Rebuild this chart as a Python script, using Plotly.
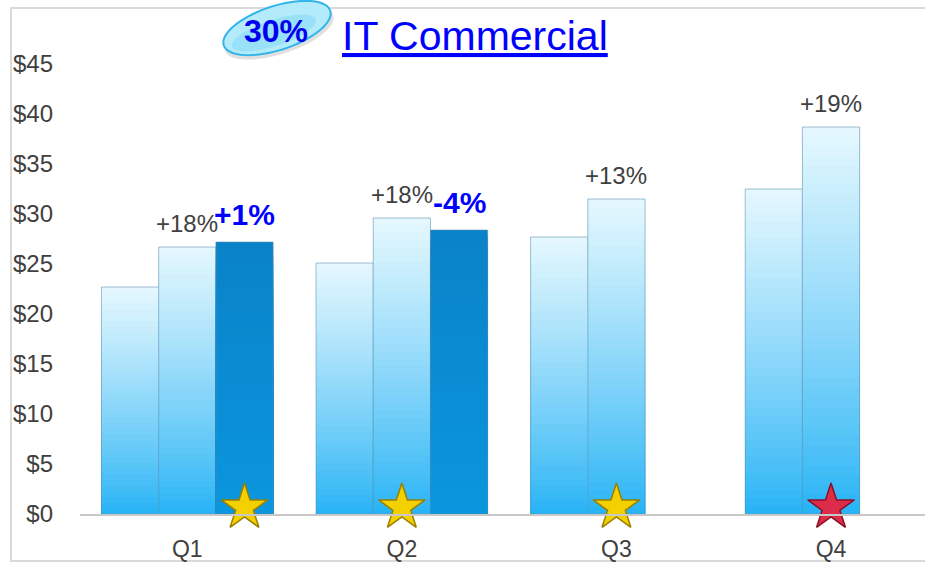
import math
import plotly.graph_objects as go

# ---------------- data ----------------
quarters = ["Q1", "Q2", "Q3", "Q4"]
prior_year = [22.7, 25.1, 27.7, 32.5]
current_year = [26.7, 29.6, 31.5, 38.7]
plan = [27.2, 28.4, None, None]
yoy_labels = ["+18%", "+18%", "+13%", "+19%"]
plan_labels = ["+1%", "-4%", None, None]
star_kind = ["gold", "gold", "gold", "red"]
star_series = [2, None, None, None]   # series the star sits on (None = group centre)
y_ticks = [0, 5, 10, 15, 20, 25, 30, 35, 40, 45]
y_tick_text = ["$" + str(v) for v in y_ticks]
title_text = "IT Commercial"
badge_text = "30%"

# ---------------- layout constants ----------------
W, H = 925, 563
ML, MR, MT, MB = 80, 0, 64, 49
PW, PH = W - ML - MR, H - MT - MB
BARGAP = 0.2
NSER = 3
BAR_W = (1 - BARGAP) / NSER
FONT = "Liberation Sans, Arial, sans-serif"
N_SLICES = 40

xpos = list(range(len(quarters)))


def px2paper(x, y):
    return (x - ML) / PW, (H - MB - y) / PH


def lerp(c0, c1, t):
    return "rgb(%d,%d,%d)" % tuple(round(a + (b - a) * t) for a, b in zip(c0, c1))


fig = go.Figure()

series = [
    (prior_year, (36, 178, 245), (230, 248, 254), 0.85),
    (current_year, (36, 178, 245), (230, 248, 254), 0.85),
    (plan, (10, 150, 222), (10, 130, 200), 1.0),
]

for si, (vals, c_bot, c_top, gamma) in enumerate(series):
    # draw from tallest (top colour) to shortest (bottom colour) -> smooth vertical gradient
    for j in range(N_SLICES):
        frac = (N_SLICES - j) / N_SLICES
        t = ((N_SLICES - j - 0.5) / N_SLICES) ** gamma
        fig.add_trace(go.Bar(
            x=xpos,
            y=[None if v is None else v * frac for v in vals],
            offsetgroup=str(si),
            marker=dict(color=lerp(c_bot, c_top, t), line=dict(width=0)),
            hoverinfo="skip", showlegend=False,
        ))
    # outline
    fig.add_trace(go.Bar(
        x=xpos, y=vals, offsetgroup=str(si),
        marker=dict(color="rgba(0,0,0,0)",
                    line=dict(color="rgba(90,140,175,0.55)", width=1)),
        hoverinfo="skip", showlegend=False,
    ))

# stars
STAR_Y = 0.65
star_x = [x + ((s - 1) * BAR_W if s is not None else 0) for x, s in zip(xpos, star_series)]
fill = {"gold": "#f3d000", "red": "#dc2c4a"}
edge = {"gold": "#9c7f00", "red": "#8a1026"}
fig.add_trace(go.Scatter(
    x=star_x, y=[STAR_Y] * len(star_x), mode="markers",
    marker=dict(symbol="star", size=35,
                color=[fill[k] for k in star_kind],
                line=dict(color=[edge[k] for k in star_kind], width=1.5)),
    cliponaxis=False, hoverinfo="skip", showlegend=False,
))

annotations = []
# growth labels
for x, v, lab in zip(xpos, current_year, yoy_labels):
    if lab:
        annotations.append(dict(x=x, y=v, text=lab, showarrow=False, xref="x", yref="y",
                                yanchor="middle", yshift=24,
                                font=dict(family=FONT, size=24, color="#404040")))
for x, v, lab in zip(xpos, plan, plan_labels):
    if lab:
        annotations.append(dict(x=x + BAR_W, y=v, text="<b>" + lab + "</b>", showarrow=False,
                                xref="x", yref="y", yanchor="middle", yshift=28,
                                font=dict(family=FONT, size=30, color="#0000ff")))

# title
tx, ty = px2paper(475, 36)
annotations.append(dict(x=tx, y=ty, xref="paper", yref="paper", text="<u>" + title_text + "</u>",
                        showarrow=False, xanchor="center", yanchor="middle",
                        font=dict(family=FONT, size=41, color="#0000ff")))
bx, by = px2paper(276, 31)
annotations.append(dict(x=bx, y=by, xref="paper", yref="paper", text="<b>" + badge_text + "</b>",
                        showarrow=False, xanchor="center", yanchor="middle",
                        font=dict(family=FONT, size=32, color="#0000ee")))


def ellipse_path(cx, cy, a, b, ang_deg, n=72):
    ph = math.radians(ang_deg)
    pts = []
    for k in range(n):
        t = 2 * math.pi * k / n
        ex, ey = a * math.cos(t), b * math.sin(t)
        x = cx + ex * math.cos(ph) + ey * math.sin(ph)
        y = cy - ex * math.sin(ph) + ey * math.cos(ph)
        pts.append(px2paper(x, y))
    return "M " + " L ".join("%.5f,%.5f" % p for p in pts) + " Z"


shapes = [
    # outer frame
    dict(type="rect", xref="paper", yref="paper",
         x0=px2paper(11, 0)[0], x1=px2paper(940, 0)[0],
         y0=px2paper(0, 561)[1], y1=px2paper(0, 8)[1],
         line=dict(color="#d9d9d9", width=2), fillcolor="rgba(0,0,0,0)", layer="below"),
    # badge shadow
    dict(type="path", xref="paper", yref="paper", path=ellipse_path(279, 33, 57, 21, 18),
         fillcolor="rgba(0,0,0,0.12)", line=dict(width=0)),
    # badge
    dict(type="path", xref="paper", yref="paper", path=ellipse_path(277, 28, 56, 22, 18),
         fillcolor="#b4ebfb", line=dict(color="#33b5ea", width=2)),
    dict(type="path", xref="paper", yref="paper", path=ellipse_path(274, 33, 44, 13, 18),
         fillcolor="rgba(120,212,246,0.45)", line=dict(width=0)),
]

fig.update_layout(
    width=W, height=H,
    margin=dict(l=ML, r=MR, t=MT, b=MB, pad=0),
    paper_bgcolor="white", plot_bgcolor="white",
    barmode="group", bargap=BARGAP, bargroupgap=0,
    showlegend=False,
    annotations=annotations, shapes=shapes,
    xaxis=dict(range=[-0.5, 3.438], tickvals=xpos, ticktext=quarters,
               showgrid=False, zeroline=False, showline=True, linecolor="#c8c8c8", linewidth=2,
               ticks="", ticklabelstandoff=13,
               tickfont=dict(family=FONT, size=23, color="#404040")),
    yaxis=dict(range=[0, 45], tickvals=y_ticks, ticktext=y_tick_text,
               showgrid=False, zeroline=False, showline=False, ticks="",
               ticklabelstandoff=26,
               tickfont=dict(family=FONT, size=24, color="#404040")),
    font=dict(family=FONT),
)

fig.write_html("out.html", config={"displayModeBar": False},
               post_script="document.body.style.margin='0';document.body.style.overflow='hidden';")
